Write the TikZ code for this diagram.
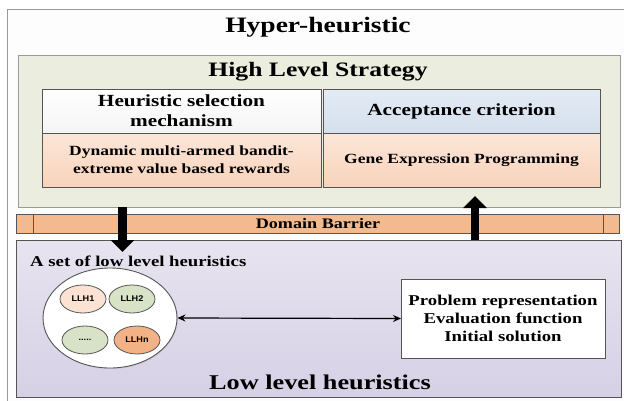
\documentclass[tikz,border=0pt]{standalone}
\usepackage{fontspec}
\setmainfont[FakeStretch=1.25]{Liberation Serif}
\newfontfamily\llhfont[FakeStretch=1.1]{Liberation Sans}
\usetikzlibrary{arrows.meta,shadows,shapes.geometric}
\definecolor{outerfill}{HTML}{FDFDFD}
\definecolor{outerline}{HTML}{9A9A9A}
\definecolor{greenfill}{HTML}{EBEEDF}
\definecolor{peachtop}{HTML}{FCE6D8}
\definecolor{peachbot}{HTML}{F8D3BC}
\definecolor{bluetop}{HTML}{E3EBF4}
\definecolor{bluebot}{HTML}{D4E0ED}
\definecolor{bandfill}{HTML}{F2BA8E}
\definecolor{purptop}{HTML}{E7E4F0}
\definecolor{purpbot}{HTML}{D6D0E5}
\definecolor{boxline}{HTML}{555555}
\definecolor{llhpeach}{HTML}{FBE2D2}
\definecolor{llhgreen}{HTML}{D8E2C6}
\definecolor{llhorange}{HTML}{F2B285}
\tikzset{
  container/.style={draw=boxline, line width=0.9pt, inner sep=0pt, outer sep=0pt, anchor=north west,
    drop shadow={opacity=0.18, shadow xshift=1.2pt, shadow yshift=-1.2pt}},
  cell/.style={draw=boxline, line width=0.9pt, inner sep=0pt, outer sep=0pt, anchor=north west, align=center,
    drop shadow={opacity=0.2, shadow xshift=1.2pt, shadow yshift=-1.2pt}},
  headtext/.style={font=\bfseries\fontsize{17}{20}\selectfont, align=center},
  smalltext/.style={font=\bfseries\fontsize{14}{18}\selectfont, align=center},
  oval/.style={ellipse, draw=boxline, line width=0.8pt, minimum width=46pt, minimum height=28pt, inner sep=0pt,
    font=\llhfont\bfseries\fontsize{8.3}{10}\selectfont},
  blockarrow/.style={line width=8.5pt, -{Triangle[width=23pt,length=12pt]}},
  linkarrow/.style={line width=1.2pt, {Stealth[length=8pt,width=7pt]}-{Stealth[length=8pt,width=7pt]}},
}
\begin{document}
\begin{tikzpicture}[x=1pt,y=-1pt]
\useasboundingbox (0,0) rectangle (624,400);
% outer frame
\node[draw=outerline, fill=outerfill, line width=1pt, anchor=north west, inner sep=0pt,
  minimum width=625pt, minimum height=400pt] (outer) at (7,9) {};
\node[font=\bfseries\fontsize{22}{26}\selectfont] (title) at (318,27) {Hyper-heuristic};
% high level strategy
\node[container, draw=outerline, fill=greenfill, minimum width=602pt, minimum height=152pt] (high) at (18,55) {};
\node[font=\bfseries\fontsize{20.5}{24}\selectfont] (hls) at (318,72) {High Level Strategy};
\node[cell, top color=white, bottom color=gray!8, minimum width=279pt, minimum height=44pt, headtext] (sel) at (42,89)
  {Heuristic selection\\mechanism};
\node[cell, top color=bluetop, bottom color=bluebot, minimum width=277pt, minimum height=44pt, headtext] (acc) at (323,89)
  {Acceptance criterion};
\node[cell, top color=peachtop, bottom color=peachbot, minimum width=279pt, minimum height=54pt, smalltext] (dyn) at (42,133)
  {Dynamic multi-armed bandit-\\extreme value based rewards};
\node[cell, top color=peachtop, bottom color=peachbot, minimum width=277pt, minimum height=54pt, smalltext] (gep) at (323,133)
  {Gene Expression Programming};
% domain barrier
\node[container, fill=bandfill, minimum width=603pt, minimum height=19pt] (band) at (16,214) {};
\draw[draw=boxline, line width=0.9pt] ([xshift=17pt]band.north west) -- ([xshift=17pt]band.south west);
\draw[draw=boxline, line width=0.9pt] ([xshift=-16pt]band.north east) -- ([xshift=-16pt]band.south east);
\node[font=\bfseries\fontsize{14.5}{17}\selectfont] (dbtext) at (318,223.5) {Domain Barrier};
% low level heuristics
\node[container, top color=purptop, bottom color=purpbot, minimum width=605pt, minimum height=157pt] (low) at (16,240) {};
\node[anchor=west, font=\bfseries\fontsize{15}{18}\selectfont, inner sep=0pt] (settext) at (30,261) {A set of low level heuristics};
\node[ellipse, draw=boxline, line width=0.9pt, fill=white, minimum width=134pt, minimum height=100pt,
  drop shadow={opacity=0.15, shadow xshift=1pt, shadow yshift=-1pt}] (set) at (110,318) {};
\node[oval, fill=llhpeach] (llh1) at (83,299) {LLH1};
\node[oval, fill=llhgreen] (llh2) at (132,299) {LLH2};
\node[oval, fill=llhgreen] (llhd) at (85,340) {.....};
\node[oval, fill=llhorange] (llhn) at (137,340) {LLHn};
\node[cell, fill=white, minimum width=204pt, minimum height=79pt, font=\bfseries\fontsize{15}{18}\selectfont] (prob) at (401,279)
  {Problem representation\\Evaluation function\\Initial solution};
\node[font=\bfseries\fontsize{21}{25}\selectfont] (lowtext) at (320,382) {Low level heuristics};
% arrows
\coordinate (dstart) at (122.5,207);
\coordinate (dend) at (122.5,252);
\coordinate (ustart) at (475,240);
\coordinate (uend) at (475,196);
\draw[blockarrow] (dstart) -- (dend);
\draw[blockarrow] (ustart) -- (uend);
\draw[linkarrow] (set.east) -- (prob.west);
\end{tikzpicture}
\end{document}
